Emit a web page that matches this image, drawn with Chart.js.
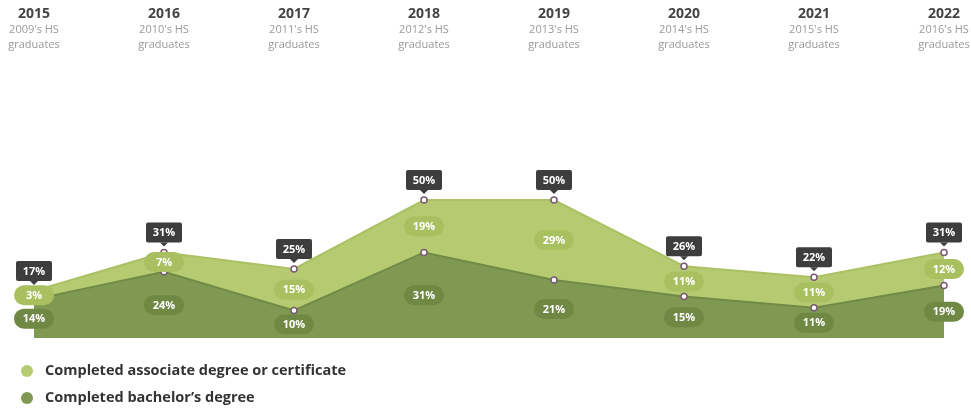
<!DOCTYPE html>
<html>
<head>
<meta charset="utf-8">
<script src="https://cdn.jsdelivr.net/npm/chart.js@4.4.1/dist/chart.umd.min.js"></script>
<style>
  html, body { margin: 0; padding: 0; background: #fff; }
  #wrap { width: 971px; height: 409px; position: relative; }
</style>
</head>
<body>
<div id="wrap"><canvas id="gradChart"></canvas></div>
<script>
const years = ['2015', '2016', '2017', '2018', '2019', '2020', '2021', '2022'];
const cohorts = ["2009's HS", "2010's HS", "2011's HS", "2012's HS", "2013's HS", "2014's HS", "2015's HS", "2016's HS"];
const bachelorValues = [14, 24, 10, 31, 21, 15, 11, 19];
const associateValues = [3, 7, 15, 19, 29, 11, 11, 12];
const totalValues = [17, 31, 25, 50, 50, 26, 22, 31];
const seriesNames = ['Completed associate degree or certificate', 'Completed bachelor\u2019s degree'];

const FONT = '"Open Sans", "Noto Sans", sans-serif';
const lightGreen = '#b6ca72';
const darkGreen = '#7f9952';

function roundRect(ctx, x, y, w, h, r) {
    ctx.beginPath();
    ctx.moveTo(x + r, y);
    ctx.lineTo(x + w - r, y);
    ctx.arcTo(x + w, y, x + w, y + r, r);
    ctx.lineTo(x + w, y + h - r);
    ctx.arcTo(x + w, y + h, x + w - r, y + h, r);
    ctx.lineTo(x + r, y + h);
    ctx.arcTo(x, y + h, x, y + h - r, r);
    ctx.lineTo(x, y + r);
    ctx.arcTo(x, y, x + r, y, r);
    ctx.closePath();
}

// header, pills, total boxes and legend
const decorations = {
    id: 'decorations',
    afterDatasetsDraw(chart) {
        const ctx = chart.ctx;
        const xs = chart.scales.x;
        const ys = chart.scales.y;
        ctx.save();
        ctx.textAlign = 'center';
        ctx.textBaseline = 'middle';

        years.forEach((yr, i) => {
            const x = xs.getPixelForValue(i);
            const yTop = ys.getPixelForValue(totalValues[i]);
            const yMid = ys.getPixelForValue(bachelorValues[i]);
            const yBase = ys.getPixelForValue(0);

            // header
            ctx.fillStyle = '#444';
            ctx.font = 'bold 14px ' + FONT;
            ctx.fillText(yr, x, 14);
            ctx.fillStyle = '#9a9a9a';
            ctx.font = '11px ' + FONT;
            ctx.fillText(cohorts[i], x, 30);
            ctx.fillText('graduates', x, 45);

            // pills
            ctx.font = 'bold 11px ' + FONT;
            ctx.fillStyle = '#a9c061';
            roundRect(ctx, x - 20, (yTop + yMid) / 2 - 10, 40, 20, 10);
            ctx.fill();
            ctx.fillStyle = '#fff';
            ctx.fillText(associateValues[i] + '%', x, (yTop + yMid) / 2 + 0.5);

            ctx.fillStyle = '#6f8945';
            roundRect(ctx, x - 20, (yMid + yBase) / 2 - 10, 40, 20, 10);
            ctx.fill();
            ctx.fillStyle = '#fff';
            ctx.fillText(bachelorValues[i] + '%', x, (yMid + yBase) / 2 + 0.5);

            // total box
            const by = yTop - 30;
            ctx.fillStyle = '#3d3d3d';
            roundRect(ctx, x - 18, by, 36, 20, 2);
            ctx.fill();
            ctx.beginPath();
            ctx.moveTo(x - 4, by + 20);
            ctx.lineTo(x, by + 24);
            ctx.lineTo(x + 4, by + 20);
            ctx.fill();
            ctx.fillStyle = '#fff';
            ctx.fillText(totalValues[i] + '%', x, by + 10.5);
        });

        // legend
        const legendColors = [lightGreen, darkGreen];
        seriesNames.forEach((name, i) => {
            const cy = 371 + i * 27;
            ctx.fillStyle = legendColors[i];
            ctx.beginPath();
            ctx.arc(27, cy, 6, 0, Math.PI * 2);
            ctx.fill();
            ctx.fillStyle = '#333';
            ctx.font = 'bold 14.5px ' + FONT;
            ctx.textAlign = 'left';
            ctx.fillText(name, 45, cy);
        });
        ctx.restore();
    }
};

const pointStyle = {
    pointRadius: 3,
    pointBackgroundColor: '#fff',
    pointBorderColor: '#7a5a72',
    pointBorderWidth: 1.5,
    pointHoverRadius: 3,
    clip: false
};

new Chart(document.getElementById('gradChart'), {
    type: 'line',
    data: {
        labels: years,
        datasets: [
            Object.assign({
                label: seriesNames[1],
                data: bachelorValues,
                backgroundColor: darkGreen,
                borderColor: '#708b46',
                borderWidth: 2,
                fill: 'origin',
                tension: 0
            }, pointStyle),
            Object.assign({
                label: seriesNames[0],
                data: associateValues,
                backgroundColor: lightGreen,
                borderColor: '#abc163',
                borderWidth: 2,
                fill: '-1',
                tension: 0
            }, pointStyle)
        ]
    },
    options: {
        responsive: true,
        maintainAspectRatio: false,
        animation: false,
        layout: { padding: { left: 34, right: 27, top: 200, bottom: 71 } },
        plugins: {
            legend: { display: false },
            tooltip: { enabled: false },
            filler: { drawTime: 'beforeDatasetsDraw' }
        },
        scales: {
            x: { display: false, offset: false },
            y: { display: false, stacked: true, min: 0, max: 50 }
        }
    },
    plugins: [decorations]
});
</script>
</body>
</html>
